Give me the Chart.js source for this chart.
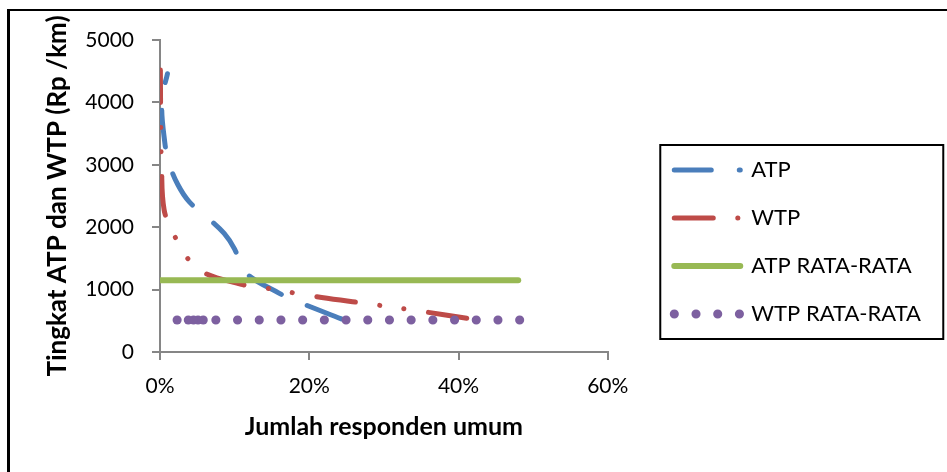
<!DOCTYPE html>
<html>
<head>
<meta charset="utf-8">
<script src="https://cdn.jsdelivr.net/npm/chart.js@4.4.1/dist/chart.umd.min.js"></script>
<style>
  html, body { margin: 0; padding: 0; background: #fff; }
  #wrap { position: relative; width: 947px; height: 472px; }
  #frame { position: absolute; left: 7px; top: 9px; right: 0; bottom: 0;
           border-left: 3px solid #000; border-top: 2px solid #000; pointer-events: none; }
</style>
</head>
<body>
<div id="wrap">
  <canvas id="chart" width="947" height="472"></canvas>
  <div id="frame"></div>
</div>
<script>
// series, listed in the order Excel draws them (from the low end upwards)
const atpX = [24.3, 18.8, 16.0, 11.2, 10.0, 8.6, 6.3, 3.9, 2.4, 1.3, 0.65, 0.25, 1.0];
const atpY = [530, 790, 940, 1300, 1650, 1900, 2160, 2410, 2680, 3000, 3350, 4040, 4460];

const wtpX = [41.1, 35.4, 29.1, 25.8, 20.2, 13.9, 10.9, 5.4, 3.2, 1.7, 0.55, 0.2, 0.1, 0.05];
const wtpY = [540, 645, 753, 806, 902, 1030, 1085, 1300, 1590, 1930, 2280, 3000, 3700, 4520];

const atpAvgX = [48.0, 0];
const atpAvgY = [1150, 1150];

const wtpAvgX = [48.2, 5.8, 5.1, 4.5, 3.8, 2.3, 2.25];
const wtpAvgY = [513, 513, 513, 513, 513, 513, 513];

const seriesLabels = ['ATP', 'WTP', 'ATP RATA-RATA', 'WTP RATA-RATA'];
const xTicks = [0, 20, 40, 60];
const yTicks = [0, 1000, 2000, 3000, 4000, 5000];

const toPts = (xs, ys) => xs.map((x, i) => ({x: x, y: ys[i]}));

const axisGrey = '#868686';
const dotStep = 21.7;

// thin black frame round the legend, like the Excel one
const legendFrame = {
  id: 'legendFrame',
  afterDraw(chart) {
    const hb = chart.legend.legendHitBoxes;
    if (!hb || !hb.length) return;
    const first = hb[0], last = hb[hb.length - 1];
    const l = first.left - 14;
    const t = first.top - 14;
    const r = l + 283;
    const b = last.top + last.height + 14;
    const ctx = chart.ctx;
    ctx.save();
    ctx.strokeStyle = '#000';
    ctx.lineWidth = 2;
    ctx.strokeRect(l, t, r - l, b - t);
    ctx.restore();
  }
};

new Chart(document.getElementById('chart'), {
  type: 'scatter',
  data: {
    datasets: [
      {
        label: seriesLabels[0], data: toPts(atpX, atpY), showLine: true,
        borderColor: '#4A7EBB', borderWidth: 5, borderDash: [37, 28],
        borderCapStyle: 'round', tension: 0.4, pointRadius: 0, order: 4
      },
      {
        label: seriesLabels[1], data: toPts(wtpX, wtpY), showLine: true,
        borderColor: '#BE4B48', borderWidth: 5, borderDash: [39, 24.5, 0.1, 24.5, 0.1, 24.5],
        borderCapStyle: 'round', tension: 0.4, pointRadius: 0, order: 3
      },
      {
        label: seriesLabels[2], data: toPts(atpAvgX, atpAvgY), showLine: true,
        borderColor: '#98B954', borderWidth: 6, borderCapStyle: 'round',
        pointRadius: 0, order: 2
      },
      {
        label: seriesLabels[3], data: toPts(wtpAvgX, wtpAvgY), showLine: true,
        borderColor: '#7D60A0', borderWidth: 9, borderDash: [0.1, dotStep - 0.1],
        borderCapStyle: 'round', pointRadius: 0, order: 1,
        // Excel restarts the dot pattern at every data point
        segment: { borderDashOffset: c => (c.p0DataIndex % 2) * dotStep }
      }
    ]
  },
  options: {
    responsive: false,
    animation: false,
    devicePixelRatio: 1,
    layout: { padding: { top: 40, left: 42, right: 16, bottom: 28 } },
    plugins: {
      tooltip: { enabled: false },
      legend: {
        position: 'right',
        maxWidth: 400,
        labels: {
          usePointStyle: true,
          pointStyleWidth: 66,
          padding: 26,
          color: '#000',
          font: { family: 'Lato', size: 22 },
          generateLabels: chart => chart.data.datasets.map((ds, i) => ({
            text: ds.label,
            datasetIndex: i,
            pointStyle: 'line',
            strokeStyle: ds.borderColor,
            fillStyle: ds.borderColor,
            lineWidth: ds.borderWidth,
            lineDash: ds.borderDash || [],
            lineCap: 'round',
            fontColor: '#000',
            hidden: false
          }))
        }
      }
    },
    scales: {
      x: {
        type: 'linear', min: 0, max: 60,
        afterBuildTicks: s => { s.ticks = xTicks.map(v => ({value: v})); },
        afterFit: s => { s.height = 92; },
        ticks: { callback: v => v + '%', color: '#000', padding: 13.5,
                 font: { family: 'Lato', size: 21 } },
        grid: { drawOnChartArea: false, color: axisGrey, lineWidth: 2, tickLength: 8 },
        border: { color: axisGrey, width: 2 },
        title: { display: true, text: 'Jumlah responden umum', color: '#000',
                 font: { family: 'Lato', size: 25, weight: 'bold' },
                 padding: { top: 0, bottom: 2 } }
      },
      y: {
        type: 'linear', min: 0, max: 5000,
        afterBuildTicks: s => { s.ticks = yTicks.map(v => ({value: v})); },
        afterFit: s => { s.width = 118; },
        ticks: { callback: v => String(v), color: '#000', padding: 18,
                 font: { family: 'Lato', size: 21 } },
        grid: { drawOnChartArea: false, color: axisGrey, lineWidth: 2, tickLength: 8 },
        border: { color: axisGrey, width: 2 },
        title: { display: true, text: 'Tingkat ATP dan WTP (Rp /km)', color: '#000',
                 font: { family: 'Lato', size: 26, weight: 'bold' },
                 padding: { top: 0, bottom: 0 } }
      },
      gap: {
        type: 'linear', position: 'right', display: true,
        grid: { display: false, drawTicks: false }, border: { display: false },
        ticks: { display: false },
        afterFit: s => { s.width = 40.5; }
      }
    }
  },
  plugins: [legendFrame]
});
</script>
</body>
</html>
